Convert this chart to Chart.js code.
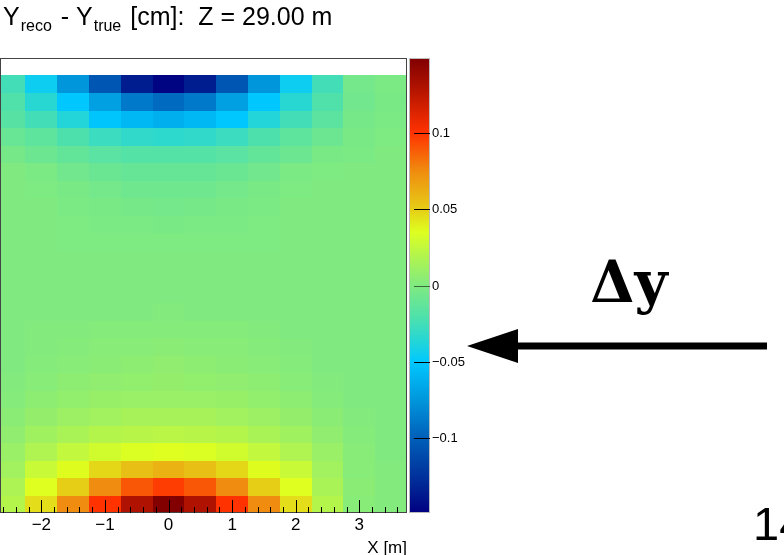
<!DOCTYPE html>
<html>
<head>
<meta charset="utf-8">
<script src="https://cdn.jsdelivr.net/npm/chart.js@4.4.1/dist/chart.umd.min.js"></script>
<style>
  html, body { margin: 0; padding: 0; background: #fff; }
  canvas { display: block; }
</style>
</head>
<body>
<canvas id="myChart" width="784" height="555"></canvas>
<script>
// bin centres of the map: x in metres, rows listed from top to bottom
var xCenters = [-2.5, -2, -1.5, -1, -0.5, 0, 0.5, 1, 1.5, 2, 2.5, 3, 3.5];
var yCenters = [3, 2.75, 2.5, 2.25, 2, 1.75, 1.5, 1.25, 1, 0.75, 0.5, 0.25, 0,
                -0.25, -0.5, -0.75, -1, -1.25, -1.5, -1.75, -2, -2.25, -2.5, -2.75, -3];

// Y_reco - Y_true [cm], one row per y bin (top to bottom)
var dyRows = [
    [-0.025, -0.045, -0.075, -0.105, -0.135, -0.147, -0.135, -0.105, -0.075, -0.045, -0.025, -0.005, -0.002],
    [-0.020, -0.035, -0.050, -0.070, -0.088, -0.095, -0.088, -0.070, -0.050, -0.035, -0.020, -0.006, -0.003],
    [-0.017, -0.025, -0.037, -0.052, -0.058, -0.062, -0.058, -0.050, -0.037, -0.025, -0.015, -0.004, -0.002],
    [-0.010, -0.014, -0.021, -0.028, -0.032, -0.033, -0.032, -0.028, -0.021, -0.014, -0.008, -0.003, -0.001],
    [-0.004, -0.008, -0.012, -0.016, -0.018, -0.018, -0.018, -0.016, -0.012, -0.008, -0.003, -0.002, 0],
    [0, -0.002, -0.006, -0.009, -0.011, -0.011, -0.011, -0.009, -0.006, -0.002, -0.001, 0, 0],
    [0, -0.001, -0.003, -0.005, -0.007, -0.007, -0.007, -0.005, -0.003, -0.001, 0, 0, 0],
    [0, 0, -0.002, -0.003, -0.004, -0.005, -0.004, -0.003, -0.002, 0, 0, 0, 0],
    [0, 0, -0.001, -0.002, -0.002, -0.003, -0.002, -0.002, -0.001, 0, 0, 0, 0],
    [0, 0, -0.001, -0.001, -0.001, -0.001, -0.001, -0.001, -0.001, 0, 0, 0, 0],
    [0, 0, 0, 0, 0, 0, 0, 0, 0, 0, 0, 0, 0],
    [0, 0, 0, 0, 0, 0, 0, 0, 0, 0, 0, 0, 0],
    [0, 0, 0, 0, 0, 0, 0, 0, 0, 0, 0, 0, 0],
    [0, 0, 0, 0, 0, 0.001, 0, 0, 0, 0, 0, 0, 0],
    [0, 0.001, 0.001, 0.002, 0.002, 0.002, 0.002, 0.002, 0.001, 0, 0, 0, 0],
    [0, 0.001, 0.002, 0.003, 0.003, 0.004, 0.003, 0.003, 0.002, 0.001, 0, 0, 0],
    [0, 0.002, 0.003, 0.004, 0.005, 0.006, 0.005, 0.004, 0.003, 0.002, 0, 0, 0],
    [0.001, 0.003, 0.005, 0.006, 0.007, 0.008, 0.007, 0.006, 0.005, 0.003, 0.001, 0, 0],
    [0.002, 0.005, 0.007, 0.009, 0.010, 0.010, 0.010, 0.009, 0.007, 0.005, 0.002, 0, 0],
    [0.004, 0.008, 0.011, 0.013, 0.015, 0.015, 0.015, 0.013, 0.011, 0.008, 0.004, 0.001, 0],
    [0.006, 0.012, 0.016, 0.020, 0.021, 0.022, 0.021, 0.020, 0.016, 0.012, 0.006, 0.002, 0],
    [0.010, 0.018, 0.025, 0.030, 0.034, 0.035, 0.034, 0.030, 0.025, 0.018, 0.010, 0.003, 0],
    [0.013, 0.027, 0.036, 0.047, 0.055, 0.060, 0.055, 0.047, 0.036, 0.027, 0.013, 0.003, 0.001],
    [0.017, 0.035, 0.050, 0.075, 0.090, 0.097, 0.090, 0.075, 0.050, 0.035, 0.016, 0.004, 0.001],
    [0.020, 0.045, 0.075, 0.100, 0.130, 0.148, 0.130, 0.100, 0.075, 0.045, 0.020, 0.003, 0.001]
];

var xTicks = [-2, -1, 0, 1, 2, 3];
var zTicks = [-0.1, -0.05, 0, 0.05, 0.1];
var zMin = -0.149, zMax = 0.149;

// colour palette, value -> rgb
var palette = [
    [-0.149, [0, 0, 128]],
    [-0.13, [0, 40, 150]],
    [-0.10, [0, 95, 185]],
    [-0.075, [0, 150, 220]],
    [-0.05, [0, 200, 255]],
    [-0.035, [40, 215, 210]],
    [-0.02, [80, 225, 170]],
    [0, [128, 234, 128]],
    [0.02, [180, 245, 75]],
    [0.035, [222, 255, 32]],
    [0.05, [230, 205, 22]],
    [0.075, [240, 140, 15]],
    [0.10, [255, 50, 0]],
    [0.13, [175, 18, 0]],
    [0.149, [128, 0, 0]]
];

function colorFor(v) {
    if (v <= palette[0][0]) return 'rgb(' + palette[0][1].join(',') + ')';
    for (var i = 1; i < palette.length; i++) {
        if (v <= palette[i][0]) {
            var a = palette[i - 1], b = palette[i];
            var t = (v - a[0]) / (b[0] - a[0]);
            var c = a[1].map(function (ch, k) { return Math.round(ch + (b[1][k] - ch) * t); });
            return 'rgb(' + c.join(',') + ')';
        }
    }
    return 'rgb(' + palette[palette.length - 1][1].join(',') + ')';
}

function minus(s) {
    return String(s).replace('-', '\u2212');
}

var cells = [];
yCenters.forEach(function (y, r) {
    xCenters.forEach(function (x, c) {
        cells.push({x: x, y: y, v: dyRows[r][c]});
    });
});

var SANS = '"Liberation Sans", Arial, sans-serif';

var heatmap = {
    id: 'heatmap',
    beforeDatasetsDraw: function (chart) {
        var ctx = chart.ctx, area = chart.chartArea;
        var xs = chart.scales.x, ys = chart.scales.y;
        ctx.save();
        ctx.beginPath();
        ctx.rect(area.left, area.top, area.right - area.left, area.bottom - area.top);
        ctx.clip();
        chart.data.datasets[0].data.forEach(function (d) {
            var x0 = Math.round(xs.getPixelForValue(d.x - 0.25));
            var x1 = Math.round(xs.getPixelForValue(d.x + 0.25));
            var y0 = Math.round(ys.getPixelForValue(d.y + 0.125));
            var y1 = Math.round(ys.getPixelForValue(d.y - 0.125));
            ctx.fillStyle = colorFor(d.v);
            ctx.fillRect(x0, y0, x1 - x0, y1 - y0);
        });
        ctx.restore();
    },
    afterDraw: function (chart) {
        var ctx = chart.ctx, area = chart.chartArea;
        var xs = chart.scales.x, zs = chart.scales.z;
        ctx.save();

        // frame
        ctx.strokeStyle = '#444';
        ctx.lineWidth = 1;
        ctx.strokeRect(area.left + 0.5, area.top + 0.5, area.right - area.left - 1, area.bottom - area.top - 1);

        // x ticks, pointing into the plot
        ctx.strokeStyle = '#000';
        ctx.beginPath();
        for (var i = -13; i <= 18; i++) {
            var v = i * 0.2;
            var px = Math.round(xs.getPixelForValue(v)) + 0.5;
            if (px < area.left || px > area.right) continue;
            var len = (i % 5 === 0) ? 13 : 6;
            ctx.moveTo(px, area.bottom);
            ctx.lineTo(px, area.bottom - len);
        }
        ctx.stroke();

        // colour bar
        var cbLeft = area.right + 2, cbWidth = 21;
        var top = zs.getPixelForValue(zMax), bottom = zs.getPixelForValue(zMin);
        var grad = ctx.createLinearGradient(0, bottom, 0, top);
        palette.forEach(function (p) {
            grad.addColorStop((p[0] - zMin) / (zMax - zMin), 'rgb(' + p[1].join(',') + ')');
        });
        ctx.fillStyle = grad;
        ctx.fillRect(cbLeft, top, cbWidth, bottom - top);
        ctx.strokeStyle = '#bbb';
        ctx.strokeRect(cbLeft + 0.5, top + 0.5, cbWidth - 1, bottom - top - 1);

        ctx.strokeStyle = '#000';
        ctx.fillStyle = '#000';
        ctx.font = '13px ' + SANS;
        ctx.textBaseline = 'middle';
        ctx.textAlign = 'left';
        zTicks.forEach(function (t) {
            var py = Math.round(zs.getPixelForValue(t)) + 0.5;
            ctx.strokeStyle = t === 0 ? '#3a6a3a' : '#000';
            ctx.beginPath();
            ctx.moveTo(cbLeft + 5, py);
            ctx.lineTo(cbLeft + cbWidth, py);
            ctx.stroke();
            ctx.fillText(minus(t), cbLeft + cbWidth + 2, py);
        });

        // title with subscripts
        ctx.textBaseline = 'alphabetic';
        var tx = 3;
        var parts = [
            ['Y', 25, 24.5], ['reco', 16, 31], [' - Y', 25, 24.5], ['true', 16, 31], [' [cm]:  Z = 29.00 m', 25, 24.5]
        ];
        parts.forEach(function (p) {
            var sub = p[1] < 20;
            ctx.font = p[1] + 'px ' + SANS;
            if (sub) tx += 1;
            ctx.fillText(p[0], tx, p[2]);
            tx += ctx.measureText(p[0]).width + (sub ? 2 : 0);
        });

        // annotation: label and arrow
        ctx.font = 'bold 57px "DejaVu Serif", serif';
        ctx.textAlign = 'center';
        ctx.fillText('\u0394y', 629, 302);

        ctx.fillRect(516, 342.5, 251, 7);
        ctx.beginPath();
        ctx.moveTo(467, 346);
        ctx.lineTo(518, 329);
        ctx.lineTo(518, 363);
        ctx.closePath();
        ctx.fill();

        ctx.font = '47px ' + SANS;
        ctx.textAlign = 'left';
        ctx.fillText('14', 753, 540);

        ctx.restore();
    }
};

var ctx_map = document.getElementById('myChart');
var myChart = new Chart(ctx_map, {
    type: 'scatter',
    data: {
        datasets: [{
            label: 'dy',
            data: cells,
            pointRadius: 0,
            showLine: false
        }]
    },
    options: {
        responsive: false,
        animation: false,
        events: [],
        layout: {
            padding: {left: 0, top: 58, right: 377, bottom: 0}
        },
        plugins: {
            legend: {display: false},
            tooltip: {enabled: false}
        },
        scales: {
            x: {
                type: 'linear',
                position: 'bottom',
                min: -2.65,
                max: 3.75,
                grid: {display: false, drawTicks: false},
                border: {display: false},
                afterBuildTicks: function (scale) {
                    scale.ticks = xTicks.map(function (v) { return {value: v}; });
                },
                afterFit: function (scale) {
                    scale.height = 42;
                },
                ticks: {
                    color: '#000',
                    padding: 2,
                    maxRotation: 0,
                    font: {family: SANS, size: 17},
                    callback: function (v) { return minus(v); }
                },
                title: {
                    display: true,
                    text: 'X [m]',
                    align: 'end',
                    color: '#000',
                    font: {family: SANS, size: 17},
                    padding: {top: 0, bottom: -4}
                }
            },
            y: {
                type: 'linear',
                min: -3.125,
                max: 3.375,
                display: false
            },
            z: {
                type: 'linear',
                axis: 'y',
                position: 'right',
                min: zMin,
                max: zMax,
                display: false
            }
        }
    },
    plugins: [heatmap]
});
</script>
</body>
</html>
